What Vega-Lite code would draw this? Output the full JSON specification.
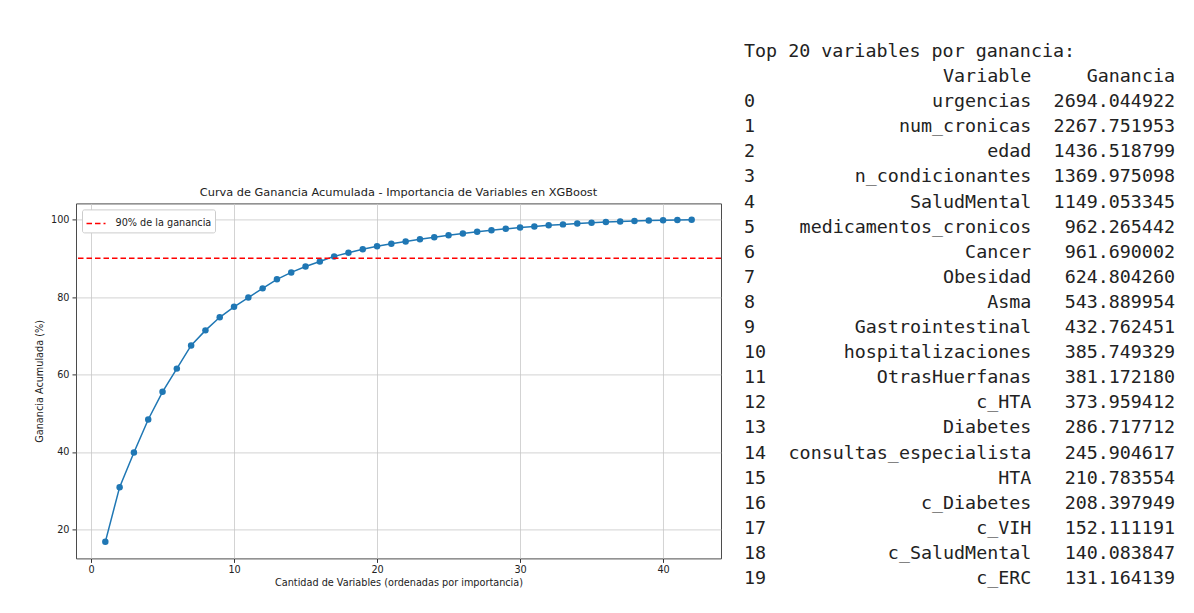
{
  "$schema": "https://vega.github.io/schema/vega-lite/v6.json",
  "background": "white",
  "padding": {"left": 34, "top": 41.4, "right": 5, "bottom": 5},
  "datasets": {
    "curva": [
      {"n": 1, "pct": 16.77}, {"n": 2, "pct": 30.90}, {"n": 3, "pct": 39.84}, {"n": 4, "pct": 48.37},
      {"n": 5, "pct": 55.52}, {"n": 6, "pct": 61.52}, {"n": 7, "pct": 67.51}, {"n": 8, "pct": 71.40},
      {"n": 9, "pct": 74.78}, {"n": 10, "pct": 77.48}, {"n": 11, "pct": 79.88}, {"n": 12, "pct": 82.25},
      {"n": 13, "pct": 84.58}, {"n": 14, "pct": 86.37}, {"n": 15, "pct": 87.90}, {"n": 16, "pct": 89.21},
      {"n": 17, "pct": 90.51}, {"n": 18, "pct": 91.45}, {"n": 19, "pct": 92.33}, {"n": 20, "pct": 93.14},
      {"n": 21, "pct": 93.76}, {"n": 22, "pct": 94.35}, {"n": 23, "pct": 94.92}, {"n": 24, "pct": 95.47},
      {"n": 25, "pct": 95.98}, {"n": 26, "pct": 96.45}, {"n": 27, "pct": 96.88}, {"n": 28, "pct": 97.27},
      {"n": 29, "pct": 97.63}, {"n": 30, "pct": 97.96}, {"n": 31, "pct": 98.26}, {"n": 32, "pct": 98.53},
      {"n": 33, "pct": 98.78}, {"n": 34, "pct": 99.00}, {"n": 35, "pct": 99.20}, {"n": 36, "pct": 99.37},
      {"n": 37, "pct": 99.52}, {"n": 38, "pct": 99.65}, {"n": 39, "pct": 99.76}, {"n": 40, "pct": 99.86},
      {"n": 41, "pct": 99.94}, {"n": 42, "pct": 100.00}
    ],
    "top20": [
      {"idx": 0, "Variable": "urgencias", "Ganancia": 2694.044922},
      {"idx": 1, "Variable": "num_cronicas", "Ganancia": 2267.751953},
      {"idx": 2, "Variable": "edad", "Ganancia": 1436.518799},
      {"idx": 3, "Variable": "n_condicionantes", "Ganancia": 1369.975098},
      {"idx": 4, "Variable": "SaludMental", "Ganancia": 1149.053345},
      {"idx": 5, "Variable": "medicamentos_cronicos", "Ganancia": 962.265442},
      {"idx": 6, "Variable": "Cancer", "Ganancia": 961.690002},
      {"idx": 7, "Variable": "Obesidad", "Ganancia": 624.804260},
      {"idx": 8, "Variable": "Asma", "Ganancia": 543.889954},
      {"idx": 9, "Variable": "Gastrointestinal", "Ganancia": 432.762451},
      {"idx": 10, "Variable": "hospitalizaciones", "Ganancia": 385.749329},
      {"idx": 11, "Variable": "OtrasHuerfanas", "Ganancia": 381.172180},
      {"idx": 12, "Variable": "c_HTA", "Ganancia": 373.959412},
      {"idx": 13, "Variable": "Diabetes", "Ganancia": 286.717712},
      {"idx": 14, "Variable": "consultas_especialista", "Ganancia": 245.904617},
      {"idx": 15, "Variable": "HTA", "Ganancia": 210.783554},
      {"idx": 16, "Variable": "c_Diabetes", "Ganancia": 208.397949},
      {"idx": 17, "Variable": "c_VIH", "Ganancia": 152.111191},
      {"idx": 18, "Variable": "c_SaludMental", "Ganancia": 140.083847},
      {"idx": 19, "Variable": "c_ERC", "Ganancia": 131.164139}
    ]
  },
  "spacing": 21,
  "hconcat": [
    {
      "width": 645,
      "height": 355,
      "view": {"stroke": "#4a4a4a", "strokeWidth": 1},
      "title": {
        "text": "Curva de Ganancia Acumulada - Importancia de Variables en XGBoost",
        "font": "DejaVu Sans", "fontSize": 11.35, "fontWeight": "normal", "color": "#222", "offset": 5
      },
      "layer": [
        {
          "data": {"name": "curva"},
          "mark": {
            "type": "line", "color": "#1f77b4", "strokeWidth": 1.5,
            "point": {"filled": true, "size": 42, "color": "#1f77b4", "opacity": 1}
          },
          "encoding": {
            "x": {
              "field": "n", "type": "quantitative",
              "scale": {"domain": [-1.05, 44.05], "nice": false, "zero": false},
              "axis": {"title": "Cantidad de Variables (ordenadas por importancia)", "values": [0, 10, 20, 30, 40], "labelPadding": 2}
            },
            "y": {
              "field": "pct", "type": "quantitative",
              "scale": {"domain": [12.5, 104.2], "nice": false, "zero": false},
              "axis": {"title": "Ganancia Acumulada (%)", "values": [20, 40, 60, 80, 100], "titlePadding": 6}
            }
          }
        },
        {
          "data": {"values": [{}]},
          "mark": {"type": "rule", "strokeDash": [5.5, 3], "strokeWidth": 1.5},
          "encoding": {
            "y": {"datum": 90},
            "color": {
              "datum": "90% de la ganancia",
              "scale": {"range": ["#ff0000"]},
              "legend": {
                "title": null, "orient": "top-left", "offset": 5.5,
                "symbolType": "stroke", "symbolDash": [5.5, 3], "symbolStrokeWidth": 1.5, "symbolSize": 361,
                "labelFont": "DejaVu Sans", "labelFontSize": 9.7, "labelColor": "#222", "labelOffset": 9,
                "fillColor": "white", "strokeColor": "#cccccc", "cornerRadius": 2, "padding": 3.5
              }
            }
          }
        }
      ]
    },
    {
      "width": 431,
      "height": 355,
      "data": {"name": "top20"},
      "layer": [
        {
          "data": {"values": [{}]},
          "mark": {"type": "text", "align": "left"},
          "encoding": {
            "x": {"datum": 0, "scale": {"domain": [0, 39], "nice": false, "zero": false}, "axis": null},
            "y": {"datum": -2, "scale": {"domain": [4.072, 18.215], "reverse": true, "nice": false, "zero": false}, "axis": null},
            "text": {"value": "Top 20 variables por ganancia:"}
          }
        },
        {
          "data": {"values": [{}]},
          "mark": {"type": "text", "align": "right"},
          "encoding": {"x": {"datum": 26}, "y": {"datum": -1}, "text": {"value": "Variable"}}
        },
        {
          "data": {"values": [{}]},
          "mark": {"type": "text", "align": "right"},
          "encoding": {"x": {"datum": 39}, "y": {"datum": -1}, "text": {"value": "Ganancia"}}
        },
        {
          "mark": {"type": "text", "align": "left"},
          "encoding": {
            "x": {"datum": 0},
            "y": {"field": "idx", "type": "quantitative"},
            "text": {"field": "idx", "type": "nominal"}
          }
        },
        {
          "mark": {"type": "text", "align": "right"},
          "encoding": {
            "x": {"datum": 26},
            "y": {"field": "idx", "type": "quantitative"},
            "text": {"field": "Variable", "type": "nominal"}
          }
        },
        {
          "mark": {"type": "text", "align": "right"},
          "encoding": {
            "x": {"datum": 39},
            "y": {"field": "idx", "type": "quantitative"},
            "text": {"field": "Ganancia", "type": "quantitative", "format": ".6f"}
          }
        }
      ]
    }
  ],
  "config": {
    "view": {"stroke": null},
    "font": "DejaVu Sans",
    "text": {"font": "DejaVu Sans Mono", "fontSize": 18.35, "color": "#222", "baseline": "middle"},
    "axis": {
      "grid": true, "gridColor": "#c8c8c8", "gridWidth": 0.8,
      "domain": false, "tickColor": "#333", "tickSize": 4, "tickWidth": 1,
      "labelFont": "DejaVu Sans", "labelFontSize": 9.7, "labelColor": "#222", "labelPadding": 3,
      "titleFont": "DejaVu Sans", "titleFontSize": 9.7, "titleFontWeight": "normal", "titleColor": "#222", "titlePadding": 3
    }
  }
}
